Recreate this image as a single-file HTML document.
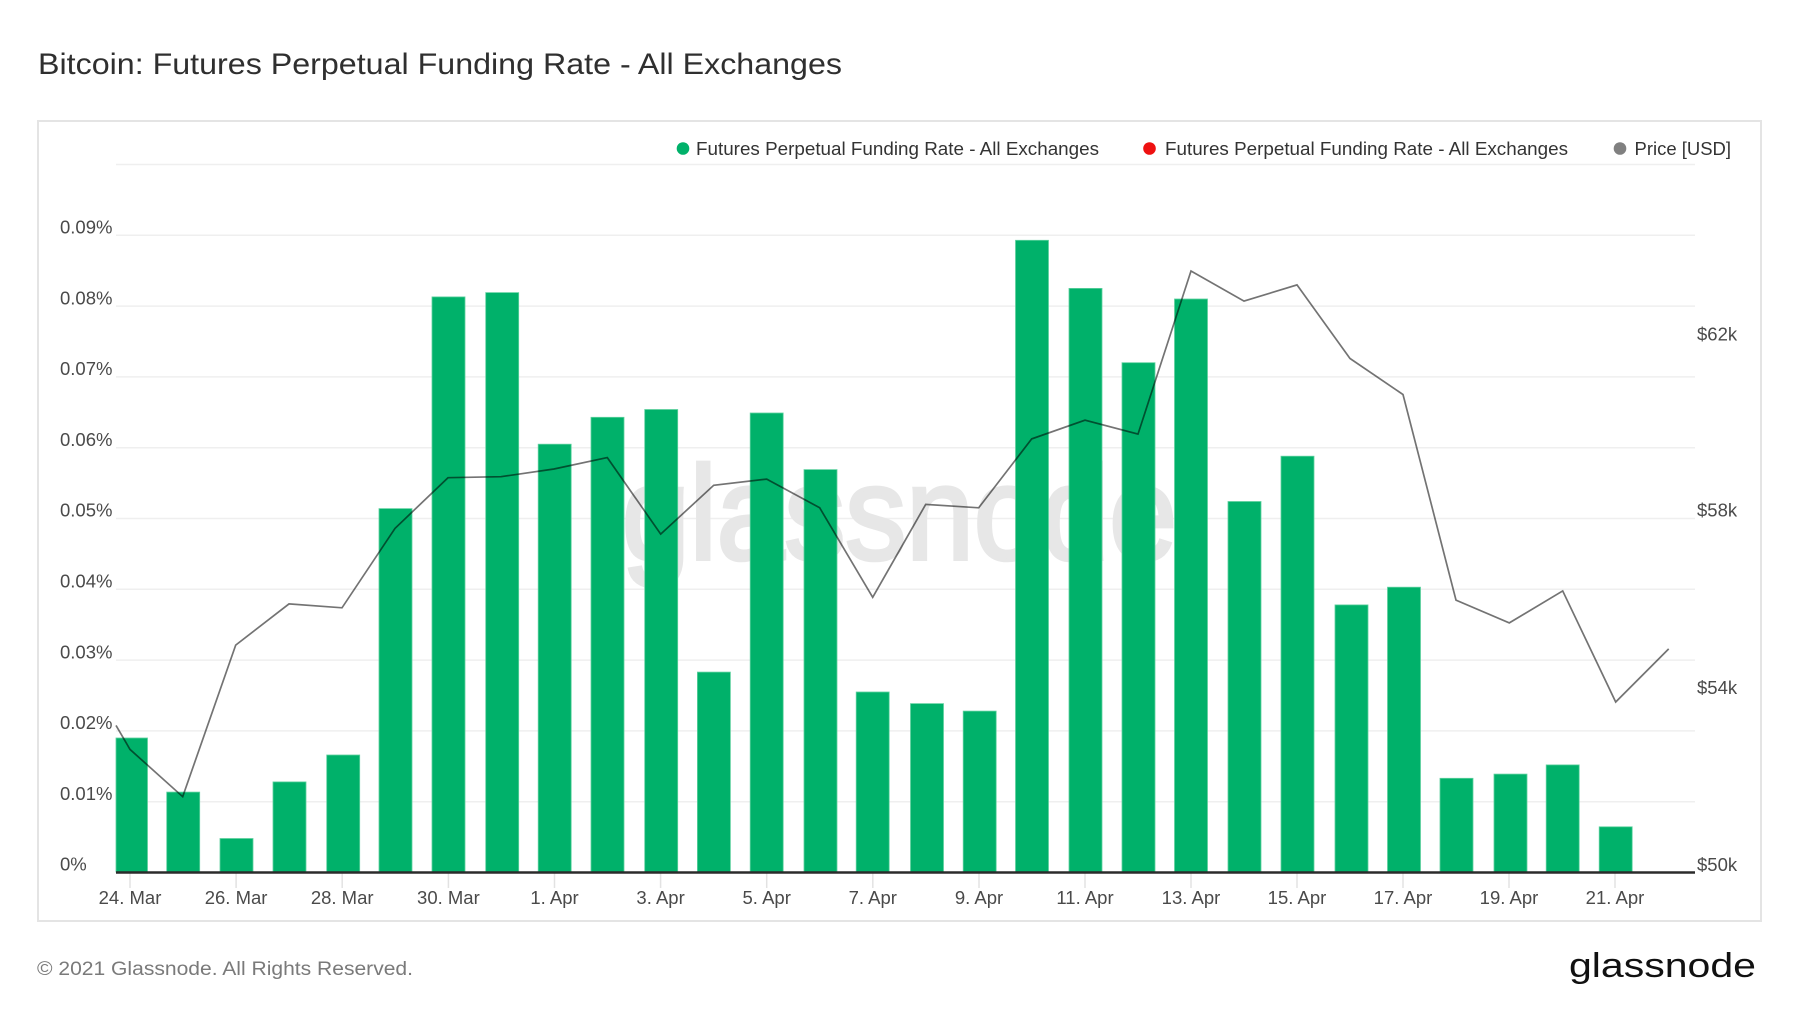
<!DOCTYPE html>
<html>
<head>
<meta charset="utf-8">
<style>
html,body{margin:0;padding:0;background:#fff;}
svg{display:block;}
text{font-family:"Liberation Sans",sans-serif;}
</style>
</head>
<body>
<svg width="1800" height="1013" viewBox="0 0 1800 1013" xmlns="http://www.w3.org/2000/svg">
<rect width="1800" height="1013" fill="#fff"/>
<!-- title -->
<text x="38" y="74" font-size="30" fill="#2f2f2f" textLength="804" lengthAdjust="spacingAndGlyphs">Bitcoin: Futures Perpetual Funding Rate - All Exchanges</text>
<!-- chart box -->
<rect x="38" y="121" width="1723" height="800" fill="#fff" stroke="#e4e4e4" stroke-width="2"/>
<!-- legend -->
<circle cx="683" cy="148.5" r="6.3" fill="#00b16a"/>
<text x="696" y="155" font-size="18.5" fill="#333" textLength="403" lengthAdjust="spacingAndGlyphs">Futures Perpetual Funding Rate - All Exchanges</text>
<circle cx="1149.5" cy="148.5" r="6.3" fill="#ee1111"/>
<text x="1165" y="155" font-size="18.5" fill="#333" textLength="403" lengthAdjust="spacingAndGlyphs">Futures Perpetual Funding Rate - All Exchanges</text>
<circle cx="1620" cy="148.5" r="6.3" fill="#808080"/>
<text x="1634.5" y="155" font-size="18.5" fill="#333" textLength="96.5" lengthAdjust="spacingAndGlyphs">Price [USD]</text>
<!-- gridlines -->
<g stroke="#efefef" stroke-width="1.5">
<line x1="116" y1="164.5" x2="1695" y2="164.5"/>
<line x1="116" y1="235.3" x2="1695" y2="235.3"/>
<line x1="116" y1="306.1" x2="1695" y2="306.1"/>
<line x1="116" y1="376.9" x2="1695" y2="376.9"/>
<line x1="116" y1="447.7" x2="1695" y2="447.7"/>
<line x1="116" y1="518.5" x2="1695" y2="518.5"/>
<line x1="116" y1="589.3" x2="1695" y2="589.3"/>
<line x1="116" y1="660.1" x2="1695" y2="660.1"/>
<line x1="116" y1="730.9" x2="1695" y2="730.9"/>
<line x1="116" y1="801.7" x2="1695" y2="801.7"/>
</g>
<!-- watermark -->
<text x="622" y="559" font-size="133" fill="#e7e7e7" stroke="#e7e7e7" stroke-width="4" textLength="555" lengthAdjust="spacingAndGlyphs">glassnode</text>
<!-- left axis labels -->
<g font-size="18.5" fill="#4a4a4a">
<text x="60" y="233.5">0.09%</text>
<text x="60" y="304.3">0.08%</text>
<text x="60" y="375.1">0.07%</text>
<text x="60" y="445.9">0.06%</text>
<text x="60" y="516.7">0.05%</text>
<text x="60" y="587.5">0.04%</text>
<text x="60" y="658.3">0.03%</text>
<text x="60" y="729.1">0.02%</text>
<text x="60" y="799.9">0.01%</text>
<text x="60" y="870.5">0%</text>
</g>
<!-- right axis labels -->
<g font-size="18.5" fill="#4a4a4a">
<text x="1697" y="340.5">$62k</text>
<text x="1697" y="516.5">$58k</text>
<text x="1697" y="694">$54k</text>
<text x="1697" y="871">$50k</text>
</g>
<!-- x ticks -->
<g stroke="#e2e2e2" stroke-width="1.5">
<line x1="130" y1="873" x2="130" y2="888"/>
<line x1="236.1" y1="873" x2="236.1" y2="888"/>
<line x1="342.2" y1="873" x2="342.2" y2="888"/>
<line x1="448.4" y1="873" x2="448.4" y2="888"/>
<line x1="554.5" y1="873" x2="554.5" y2="888"/>
<line x1="660.6" y1="873" x2="660.6" y2="888"/>
<line x1="766.7" y1="873" x2="766.7" y2="888"/>
<line x1="872.8" y1="873" x2="872.8" y2="888"/>
<line x1="979" y1="873" x2="979" y2="888"/>
<line x1="1085" y1="873" x2="1085" y2="888"/>
<line x1="1191" y1="873" x2="1191" y2="888"/>
<line x1="1297" y1="873" x2="1297" y2="888"/>
<line x1="1403" y1="873" x2="1403" y2="888"/>
<line x1="1509" y1="873" x2="1509" y2="888"/>
<line x1="1615" y1="873" x2="1615" y2="888"/>
</g>
<!-- x labels -->
<g font-size="18.5" fill="#4a4a4a" text-anchor="middle">
<text x="130" y="904">24. Mar</text>
<text x="236.1" y="904">26. Mar</text>
<text x="342.2" y="904">28. Mar</text>
<text x="448.4" y="904">30. Mar</text>
<text x="554.5" y="904">1. Apr</text>
<text x="660.6" y="904">3. Apr</text>
<text x="766.7" y="904">5. Apr</text>
<text x="872.8" y="904">7. Apr</text>
<text x="979" y="904">9. Apr</text>
<text x="1085" y="904">11. Apr</text>
<text x="1191" y="904">13. Apr</text>
<text x="1297" y="904">15. Apr</text>
<text x="1403" y="904">17. Apr</text>
<text x="1509" y="904">19. Apr</text>
<text x="1615" y="904">21. Apr</text>
</g>
<!-- bars -->
<g fill="#00b16a" stroke="#5fd19f" stroke-width="0.8">
<rect x="116" y="738" width="31.5" height="134"/>
<rect x="166.7" y="792.1" width="33" height="80"/>
<rect x="220" y="838.5" width="33" height="34"/>
<rect x="273" y="781.9" width="33" height="90.5"/>
<rect x="326.7" y="755" width="33" height="117.5"/>
<rect x="379" y="508.6" width="33" height="364"/>
<rect x="432" y="296.9" width="33" height="575.6"/>
<rect x="485.7" y="292.6" width="33" height="580"/>
<rect x="538.2" y="444.2" width="33" height="428.3"/>
<rect x="591" y="417.3" width="33" height="455.2"/>
<rect x="644.7" y="409.5" width="33" height="463"/>
<rect x="697.4" y="672.1" width="33" height="200.4"/>
<rect x="750.2" y="413" width="33" height="459.5"/>
<rect x="804" y="469.6" width="33" height="402.9"/>
<rect x="856.2" y="692" width="33" height="180.5"/>
<rect x="910.5" y="703.6" width="33" height="168.9"/>
<rect x="963.2" y="711.1" width="33" height="161.4"/>
<rect x="1015.5" y="240.3" width="33" height="632.2"/>
<rect x="1069" y="288.4" width="33" height="584.1"/>
<rect x="1122" y="362.7" width="33" height="509.8"/>
<rect x="1174.5" y="299" width="33" height="573.5"/>
<rect x="1228" y="501.5" width="33" height="371"/>
<rect x="1281" y="456.2" width="33" height="416.3"/>
<rect x="1335" y="604.9" width="33" height="267.6"/>
<rect x="1387.5" y="587.2" width="33" height="285.3"/>
<rect x="1440" y="778.3" width="33" height="94.2"/>
<rect x="1494" y="774.1" width="33" height="98.4"/>
<rect x="1546.2" y="764.9" width="33" height="107.6"/>
<rect x="1599.2" y="826.8" width="33" height="45.7"/>
</g>
<!-- baseline -->
<line x1="116" y1="872.5" x2="1695" y2="872.5" stroke="#2b2b2b" stroke-width="2.5"/>
<!-- price line -->
<polyline fill="none" stroke="#000" stroke-opacity="0.55" stroke-width="1.7" stroke-linejoin="miter"
points="116,725.4 130,749.4 182.7,796.7 235.7,645.1 289,603.9 342,607.8 395,528.4 448,477.7 501,476.7 554,469 607.3,457.6 660.7,534.1 713.7,485.3 766.7,479.1 819.7,507.8 872.7,597.3 925.7,504.4 978.7,507.8 1031.7,438.9 1085,420.2 1138,434.1 1191,271 1244,301.1 1297,284.9 1350,358.5 1403,394.5 1456,600.1 1509.3,622.9 1562.7,590.9 1615.7,702 1668.7,648.9"/>
<!-- footer -->
<text x="37" y="975" font-size="19" fill="#7a7a7a" textLength="376" lengthAdjust="spacingAndGlyphs">© 2021 Glassnode. All Rights Reserved.</text>
<text x="1569" y="977" font-size="34" fill="#111" textLength="187" lengthAdjust="spacingAndGlyphs">glassnode</text>
</svg>
</body>
</html>
